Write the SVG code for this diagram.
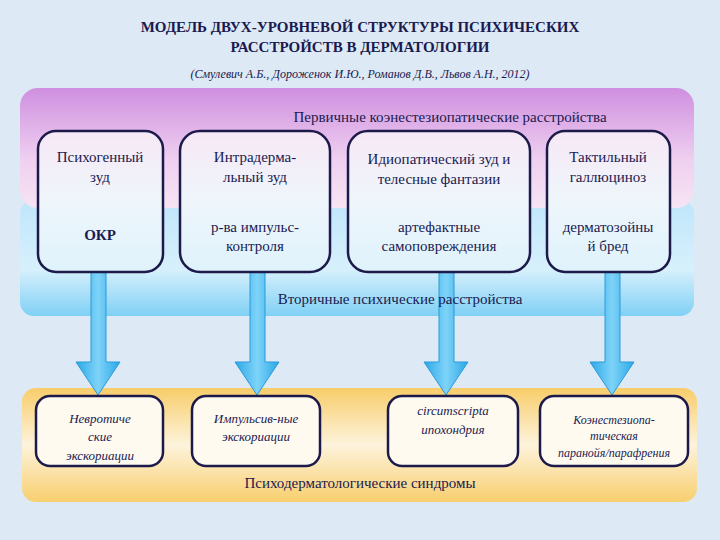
<svg xmlns="http://www.w3.org/2000/svg" width="720" height="540" viewBox="0 0 720 540">
<defs>
<linearGradient id="pink" x1="0" y1="0" x2="0" y2="1"><stop offset="0" stop-color="#cf8fe0"/><stop offset="0.6" stop-color="#efd0f0"/><stop offset="1" stop-color="#f6e4f4"/></linearGradient>
<linearGradient id="blue" x1="0" y1="0" x2="0" y2="1"><stop offset="0" stop-color="#bfe6fb"/><stop offset="0.6" stop-color="#d7f0fc"/><stop offset="1" stop-color="#7fd0f5"/></linearGradient>
<linearGradient id="orange" x1="0" y1="0" x2="0" y2="1"><stop offset="0" stop-color="#f8cd6a"/><stop offset="0.5" stop-color="#fdf3dc"/><stop offset="1" stop-color="#f8cf6e"/></linearGradient>
<linearGradient id="box" x1="0" y1="0" x2="0" y2="1"><stop offset="0" stop-color="#f7e8f6"/><stop offset="0.5" stop-color="#eef6fb"/><stop offset="1" stop-color="#dff2fb"/></linearGradient>
<linearGradient id="arr" x1="0" y1="0" x2="1" y2="0"><stop offset="0" stop-color="#2aa8e8"/><stop offset="0.5" stop-color="#7fd3f8"/><stop offset="1" stop-color="#2aa8e8"/></linearGradient>
<style>
text{font-family:'Liberation Serif','DejaVu Serif',serif}
.t{fill:#1a1a50;text-anchor:middle}
.b{stroke:#1c1a4a;stroke-width:2.5}
.bb{fill:url(#box)}
.bo{fill:#fffaf0}
.i{font-style:italic;font-size:13px}
.n{font-size:15px}
.a{fill:url(#arr);stroke:#2a9ad8;stroke-width:1}
</style>
</defs>
<rect width="720" height="540" fill="#dde9f5"/>
<text class="t" x="360" y="32" font-size="15" font-weight="bold">МОДЕЛЬ ДВУХ-УРОВНЕВОЙ СТРУКТУРЫ ПСИХИЧЕСКИХ</text>
<text class="t" x="360" y="52" font-size="15" font-weight="bold">РАССТРОЙСТВ В ДЕРМАТОЛОГИИ</text>
<text class="t" x="360" y="78" font-size="12" font-style="italic">(Смулевич А.Б., Дороженок И.Ю., Романов Д.В., Львов А.Н., 2012)</text>
<g id="bands">
<rect x="20" y="200" width="674" height="116" rx="14" fill="url(#blue)"/>
<rect x="20" y="88" width="674" height="120" rx="18" fill="url(#pink)"/>
<text class="t n" x="450" y="122">Первичные коэнестезиопатические расстройства</text>
<rect x="22" y="388" width="675" height="114" rx="14" fill="url(#orange)"/>
</g>
<g id="connectors">
<path class="a" d="M91,272 H106 V362 H120 L98,395 L76,362 H91 Z"/>
<path class="a" d="M250,272 H265 V362 H279 L257,395 L235,362 H250 Z"/>
<path class="a" d="M439,272 H454 V362 H468 L446,395 L424,362 H439 Z"/>
<path class="a" d="M605,272 H620 V362 H634 L612,395 L590,362 H605 Z"/>
</g>
<text class="t n" x="400" y="304">Вторичные психические расстройства</text>
<g id="n1"><rect class="b bb" x="38" y="131" width="125" height="141" rx="18"/><text class="t n" x="100" y="162">Психогенный</text><text class="t n" x="100" y="182">зуд</text><text class="t n" x="100" y="240" font-weight="bold">ОКР</text></g>
<g id="n2"><rect class="b bb" x="180" y="131" width="150" height="141" rx="20"/><text class="t n" x="255" y="162">Интрадерма-</text><text class="t n" x="255" y="182">льный зуд</text><text class="t n" x="255" y="232">р-ва импульс-</text><text class="t n" x="255" y="251">контроля</text></g>
<g id="n3"><rect class="b bb" x="348" y="131" width="182" height="141" rx="20"/><text class="t n" x="439" y="164">Идиопатический зуд и</text><text class="t n" x="439" y="184">телесные фантазии</text><text class="t n" x="439" y="232">артефактные</text><text class="t n" x="439" y="251">самоповреждения</text></g>
<g id="n4"><rect class="b bb" x="547" y="131" width="123" height="141" rx="18"/><text class="t n" x="608" y="162">Тактильный</text><text class="t n" x="608" y="182">галлюциноз</text><text class="t n" x="608" y="232">дерматозойны</text><text class="t n" x="608" y="251">й бред</text></g>
<g id="m1"><rect class="b bo" x="36" y="396" width="127" height="70" rx="14"/><text class="t i" x="100" y="423">Невротиче</text><text class="t i" x="100" y="441">ские</text><text class="t i" x="100" y="460">экскориации</text></g>
<g id="m2"><rect class="b bo" x="192" y="396" width="128" height="70" rx="14"/><text class="t i" x="256" y="423">Импульсив-ные</text><text class="t i" x="256" y="441">экскориации</text></g>
<g id="m3"><rect class="b bo" x="388" y="396" width="130" height="70" rx="14"/><text class="t i" x="453" y="415">circumscripta</text><text class="t i" x="453" y="434">ипохондрия</text></g>
<g id="m4"><rect class="b bo" x="540" y="396" width="148" height="70" rx="14"/><text class="t" font-style="italic" font-size="12" x="614" y="424">Коэнестезиопа-</text><text class="t" font-style="italic" font-size="12" x="614" y="440">тическая</text><text class="t" font-style="italic" font-size="12" x="614" y="457">паранойя/парафрения</text></g>
<text class="t n" x="360" y="488">Психодерматологические синдромы</text>
</svg>
